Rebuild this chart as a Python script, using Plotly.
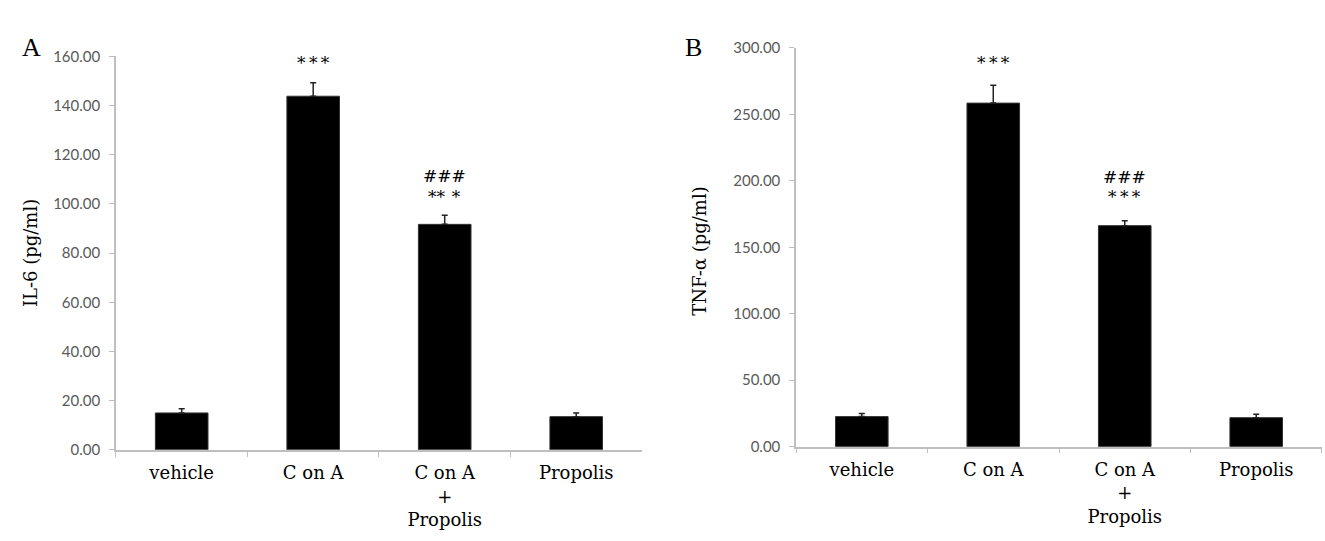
import plotly.graph_objects as go

categories = ["vehicle", "ConA", "ConA<br>+<br>Propolis", "Propolis"]
cat_text = ["vehicle", "C on A", "C on A<br>+<br>Propolis", "Propolis"]

il6_values = [15.0, 143.8, 91.7, 13.5]
il6_errors = [1.7, 5.5, 3.7, 1.5]

tnf_values = [22.6, 258.5, 166.3, 21.8]
tnf_errors = [2.4, 13.5, 3.7, 2.5]

il6_ticks = [0, 20, 40, 60, 80, 100, 120, 140, 160]
tnf_ticks = [0, 50, 100, 150, 200, 250, 300]

# significance marks: (category index, y value, text)
il6_marks = [(1, 157.2, "*\u2009*\u2009*"), (2, 111.3, "###"), (2, 102.9, "**\u2009\u2009*")]
tnf_marks = [(1, 288.9, "*\u2009*\u2009*"), (2, 202.8, "###"), (2, 187.7, "*\u2009*\u2009*")]

SERIF = "DejaVu Serif"
SANS = "Lato"
AXIS_GREY = "#bfbfbf"
TICK_GREY = "#595959"

fig = go.Figure()

for vals, errs, xa, ya in [(il6_values, il6_errors, "x", "y"),
                           (tnf_values, tnf_errors, "x2", "y2")]:
    fig.add_trace(go.Bar(
        x=categories, y=vals, width=0.4,
        marker=dict(color="black", line=dict(color="#333333", width=1)),
        error_y=dict(type="data", array=errs, arrayminus=[0] * len(errs),
                     symmetric=False, color="#222222", thickness=1.5, width=3),
        xaxis=xa, yaxis=ya, showlegend=False,
    ))

common_x = dict(
    type="category", categoryorder="array", categoryarray=categories,
    tickmode="array", tickvals=categories, ticktext=cat_text,
    tickson="boundaries", ticks="outside", ticklen=5, tickcolor=AXIS_GREY,
    showline=True, linecolor=AXIS_GREY, linewidth=1.5, showgrid=False,
    tickfont=dict(family=SERIF, size=18, color="black"), zeroline=False,
    range=[-0.5, 3.5], ticklabelstandoff=6,
)
common_y = dict(
    ticks="outside", ticklen=5, tickcolor=AXIS_GREY, showline=True,
    linecolor=AXIS_GREY, linewidth=1.5, showgrid=False, zeroline=False,
    tickformat=".2f", tickfont=dict(family=SANS, size=15, color=TICK_GREY),
    ticklabelstandoff=6,
)

fig.update_layout(
    width=1325, height=541,
    margin=dict(l=0, r=0, t=0, b=0),
    paper_bgcolor="white", plot_bgcolor="white",
    bargap=0.6,
    xaxis=dict(domain=[0.0875, 0.4845], anchor="y", **common_x),
    yaxis=dict(domain=[0.1590, 0.9113], anchor="x", range=[0, 160],
               tickvals=il6_ticks, **common_y),
    xaxis2=dict(domain=[0.6008, 0.9977], anchor="y2", **common_x),
    yaxis2=dict(domain=[0.1651, 0.9274], anchor="x2", range=[0, 300],
                tickvals=tnf_ticks, **common_y),
)

mark_font = dict(family=SERIF, size=17, color="black")
annotations = []
for idx, yv, txt in il6_marks:
    annotations.append(dict(x=categories[idx], y=yv, xref="x", yref="y", text=txt,
                            showarrow=False, font=mark_font))
for idx, yv, txt in tnf_marks:
    annotations.append(dict(x=categories[idx], y=yv, xref="x2", yref="y2", text=txt,
                            showarrow=False, font=mark_font))

annotations += [
    dict(x=20 / 1325, y=1 - 22 / 541, xref="paper", yref="paper", text="A",
         showarrow=False, font=dict(family="Liberation Serif", size=26, color="black")),
    dict(x=693 / 1325, y=1 - 22 / 541, xref="paper", yref="paper", text="B",
         showarrow=False, font=dict(family="Liberation Serif", size=26, color="black")),
    dict(x=18 / 1325, y=1 - 252 / 541, xref="paper", yref="paper", text="IL-6 (pg/ml)",
         textangle=-90, showarrow=False, font=dict(family=SERIF, size=18, color="black")),
    dict(x=700 / 1325, y=1 - 250 / 541, xref="paper", yref="paper", text="TNF-α (pg/ml)",
         textangle=-90, showarrow=False, font=dict(family=SERIF, size=18, color="black")),
]
fig.update_layout(annotations=annotations)

fig.write_html("out.html")
